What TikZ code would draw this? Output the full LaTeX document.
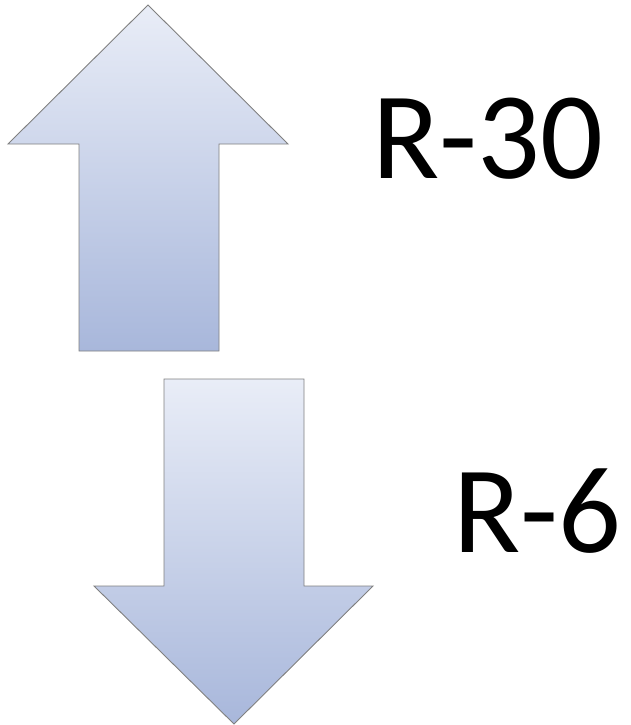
\documentclass[tikz,border=0pt]{standalone}
\usepackage{fontspec}
\setmainfont{Carlito}
\begin{document}
\begin{tikzpicture}[x=1pt,y=-1pt,
  arrowbody/.style={draw=black!50, line width=0.9pt, line join=miter, top color=arrowtop, bottom color=arrowbot},
  label/.style={inner sep=0pt, anchor=base west, font=\fontsize{124}{124}\selectfont}]
\definecolor{arrowtop}{HTML}{E9EDF7}
\definecolor{arrowbot}{HTML}{A8B7DB}
\useasboundingbox (0,0) rectangle (630,725);
% up arrow
\path[arrowbody] (148,5) -- (288,144) -- (219,144) -- (219,351) -- (79,351) -- (79,144) -- (8,144) -- cycle;
% down arrow
\path[arrowbody] (164,379) -- (304,379) -- (304,586) -- (373,586) -- (234,724) -- (94,586) -- (164,586) -- cycle;
\node[label] (r30) at (372,178) {R-30};
\node[label] (r6) at (453,552) {R-6};
\end{tikzpicture}
\end{document}
